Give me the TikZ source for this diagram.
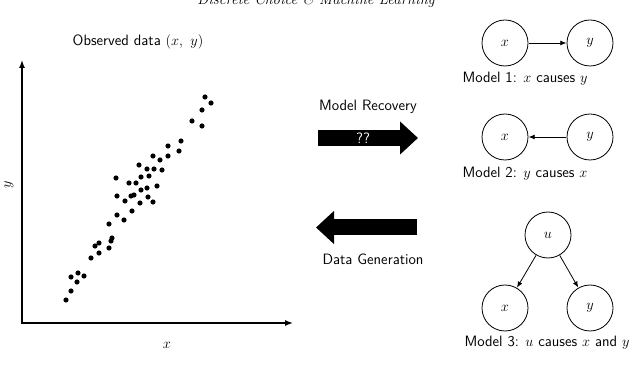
\documentclass[tikz,border=0pt]{standalone}
\usepackage{amsmath, amssymb}
\usepackage{xcolor}
\usetikzlibrary{arrows.meta}
\tikzset{
  >={Latex[length=6pt,width=5pt]},  % frecce piccole di default
  % Nodi delle variabili
  var/.style={circle,draw,line width=0.8pt,minimum size=46pt,inner sep=0pt,font=\fontsize{15}{18}\selectfont},
  lbl/.style={font=\fontsize{15}{18}\selectfont\sffamily},
  % Connessioni
  connect arrow/.style={->,line width=0.8pt,shorten <=0.3pt,shorten >=0.3pt},
  axis/.style={<->,line width=1.4pt,>={Latex[length=8pt,width=6pt]}},
  big arrow/.style={line width=16pt,-{Triangle[length=18pt,width=32pt]}}
}

\begin{document}
\begin{tikzpicture}[x=1pt,y=-1pt]
        \clip (0,0) rectangle (640,371);
        \node[font=\fontsize{15}{18}\selectfont\itshape,anchor=base] (header) at (316,5)
          {Discrete Choice \& Machine Learning};
        \coordinate (O) at (22,323);
        \coordinate (xend) at (293,323);
        \coordinate (yend) at (22,60);
        \draw[axis] (yend) -- (O) -- (xend);
        \node (xlab) at (167,345) {\fontsize{15}{18}\selectfont$x$};
        \node[rotate=90] (ylab) at (9,185) {\fontsize{15}{18}\selectfont$y$};
        \node[lbl] (obs) at (138,42) {Observed data $(x,\ y)$};
        \foreach \px/\py in {205/97,211/103,202/110,192/121,202/126,181/141,168/146,
          179/151,168/156,153/156,160/160,139/165,147/169,154/169,162/170,141/177,
          149/176,116/178,129/183,136/183,157/186,147/188,141/190,117/196,131/196,
          134/195,148/197,125/201,140/203,153/202,132/211,117/215,124/220,109/224,
          112/238,111/241,99/243,95/246,109/248,99/253,91/258,78/273,71/277,84/276,
          77/282,71/291,66/300}
          \fill (\px,\py) circle (2.6pt);
        \node[lbl] (rec) at (368,107) {Model Recovery};
        \coordinate (rec tail) at (318,138);
        \coordinate (rec tip) at (418,138);
        \draw[big arrow] (rec tail) -- (rec tip);
        \node[lbl,white] (qq) at (363,138) {??};
        \coordinate (gen tail) at (417,227.5);
        \coordinate (gen tip) at (316,227.5);
        \draw[big arrow] (gen tail) -- (gen tip);
        \node[lbl] (gen) at (373,259) {Data Generation};
        \node[var] (x1) at (505,43) {$x$};
        \node[var] (y1) at (590,43) {$y$};
        \draw[connect arrow] (x1) -- (y1);
        \node[lbl] (m1) at (525,79) {Model 1: $x$ causes $y$};
        \node[var] (x2) at (505,137) {$x$};
        \node[var] (y2) at (590,137) {$y$};
        \draw[connect arrow] (y2) -- (x2);
        \node[lbl] (m2) at (525,174) {Model 2: $y$ causes $x$};
        \node[var] (u3) at (548,235) {$u$};
        \node[var] (x3) at (505,308) {$x$};
        \node[var] (y3) at (590,308) {$y$};
        \draw[connect arrow] (u3) -- (x3);
        \draw[connect arrow] (u3) -- (y3);
        \node[lbl] (m3) at (547,343) {Model 3: $u$ causes $x$ and $y$};
      \end{tikzpicture}
\end{document}
